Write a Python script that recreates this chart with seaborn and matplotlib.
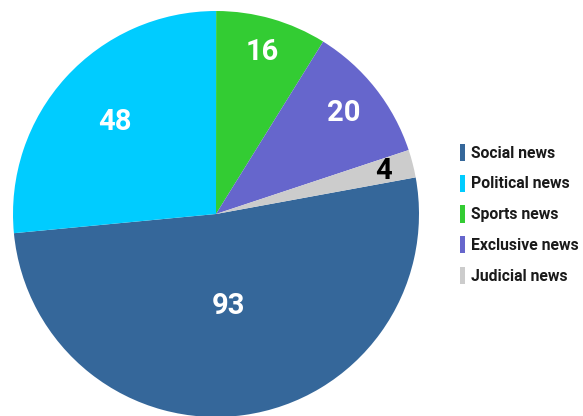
import matplotlib
matplotlib.use("Agg")
import matplotlib.pyplot as plt
import seaborn as sns
import numpy as np

categories = ["Social news", "Political news", "Sports news", "Exclusive news", "Judicial news"]
values = [93, 48, 16, 20, 4]
colors = ["#35679A", "#00CCFF", "#33CC33", "#6666CC", "#CCCCCC"]
label_colors = ["white", "white", "white", "white", "black"]
label_radius = [0.46, 0.67, 0.83, 0.80, 0.85]

sns.set_theme(style="white")
plt.rcParams['font.family'] = ['Roboto', 'DejaVu Sans']

W, H = 583, 416
fig = plt.figure(figsize=(W / 100, H / 100), dpi=100)
cx, cy, r = 216, 214, 203
ax = fig.add_axes([(cx - r) / W, (H - cy - r) / H, 2 * r / W, 2 * r / H])

wedges, _ = ax.pie(values, colors=colors, startangle=10.4, counterclock=False,
                   wedgeprops=dict(linewidth=0))
ax.set_xlim(-1, 1)
ax.set_ylim(-1, 1)
ax.set_aspect('auto')
ax.axis('off')

for w, v, lc, lr in zip(wedges, values, label_colors, label_radius):
    ang = np.deg2rad((w.theta1 + w.theta2) / 2)
    ax.text(lr * np.cos(ang), lr * np.sin(ang), str(v), ha='center', va='center',
            fontsize=21, fontweight='bold', color=lc)

leg = fig.legend(wedges, categories, loc='center left',
                 bbox_to_anchor=(460 / W, 1 - 214 / H), frameon=False,
                 prop=dict(family='Roboto', weight='bold', size=11.3),
                 handlelength=0.3, handleheight=1.3, handletextpad=0.4,
                 labelspacing=0.87, borderaxespad=0, borderpad=0)
for t in leg.get_texts():
    t.set_color('#1a1a1a')

fig.savefig("out.png", dpi=100)
